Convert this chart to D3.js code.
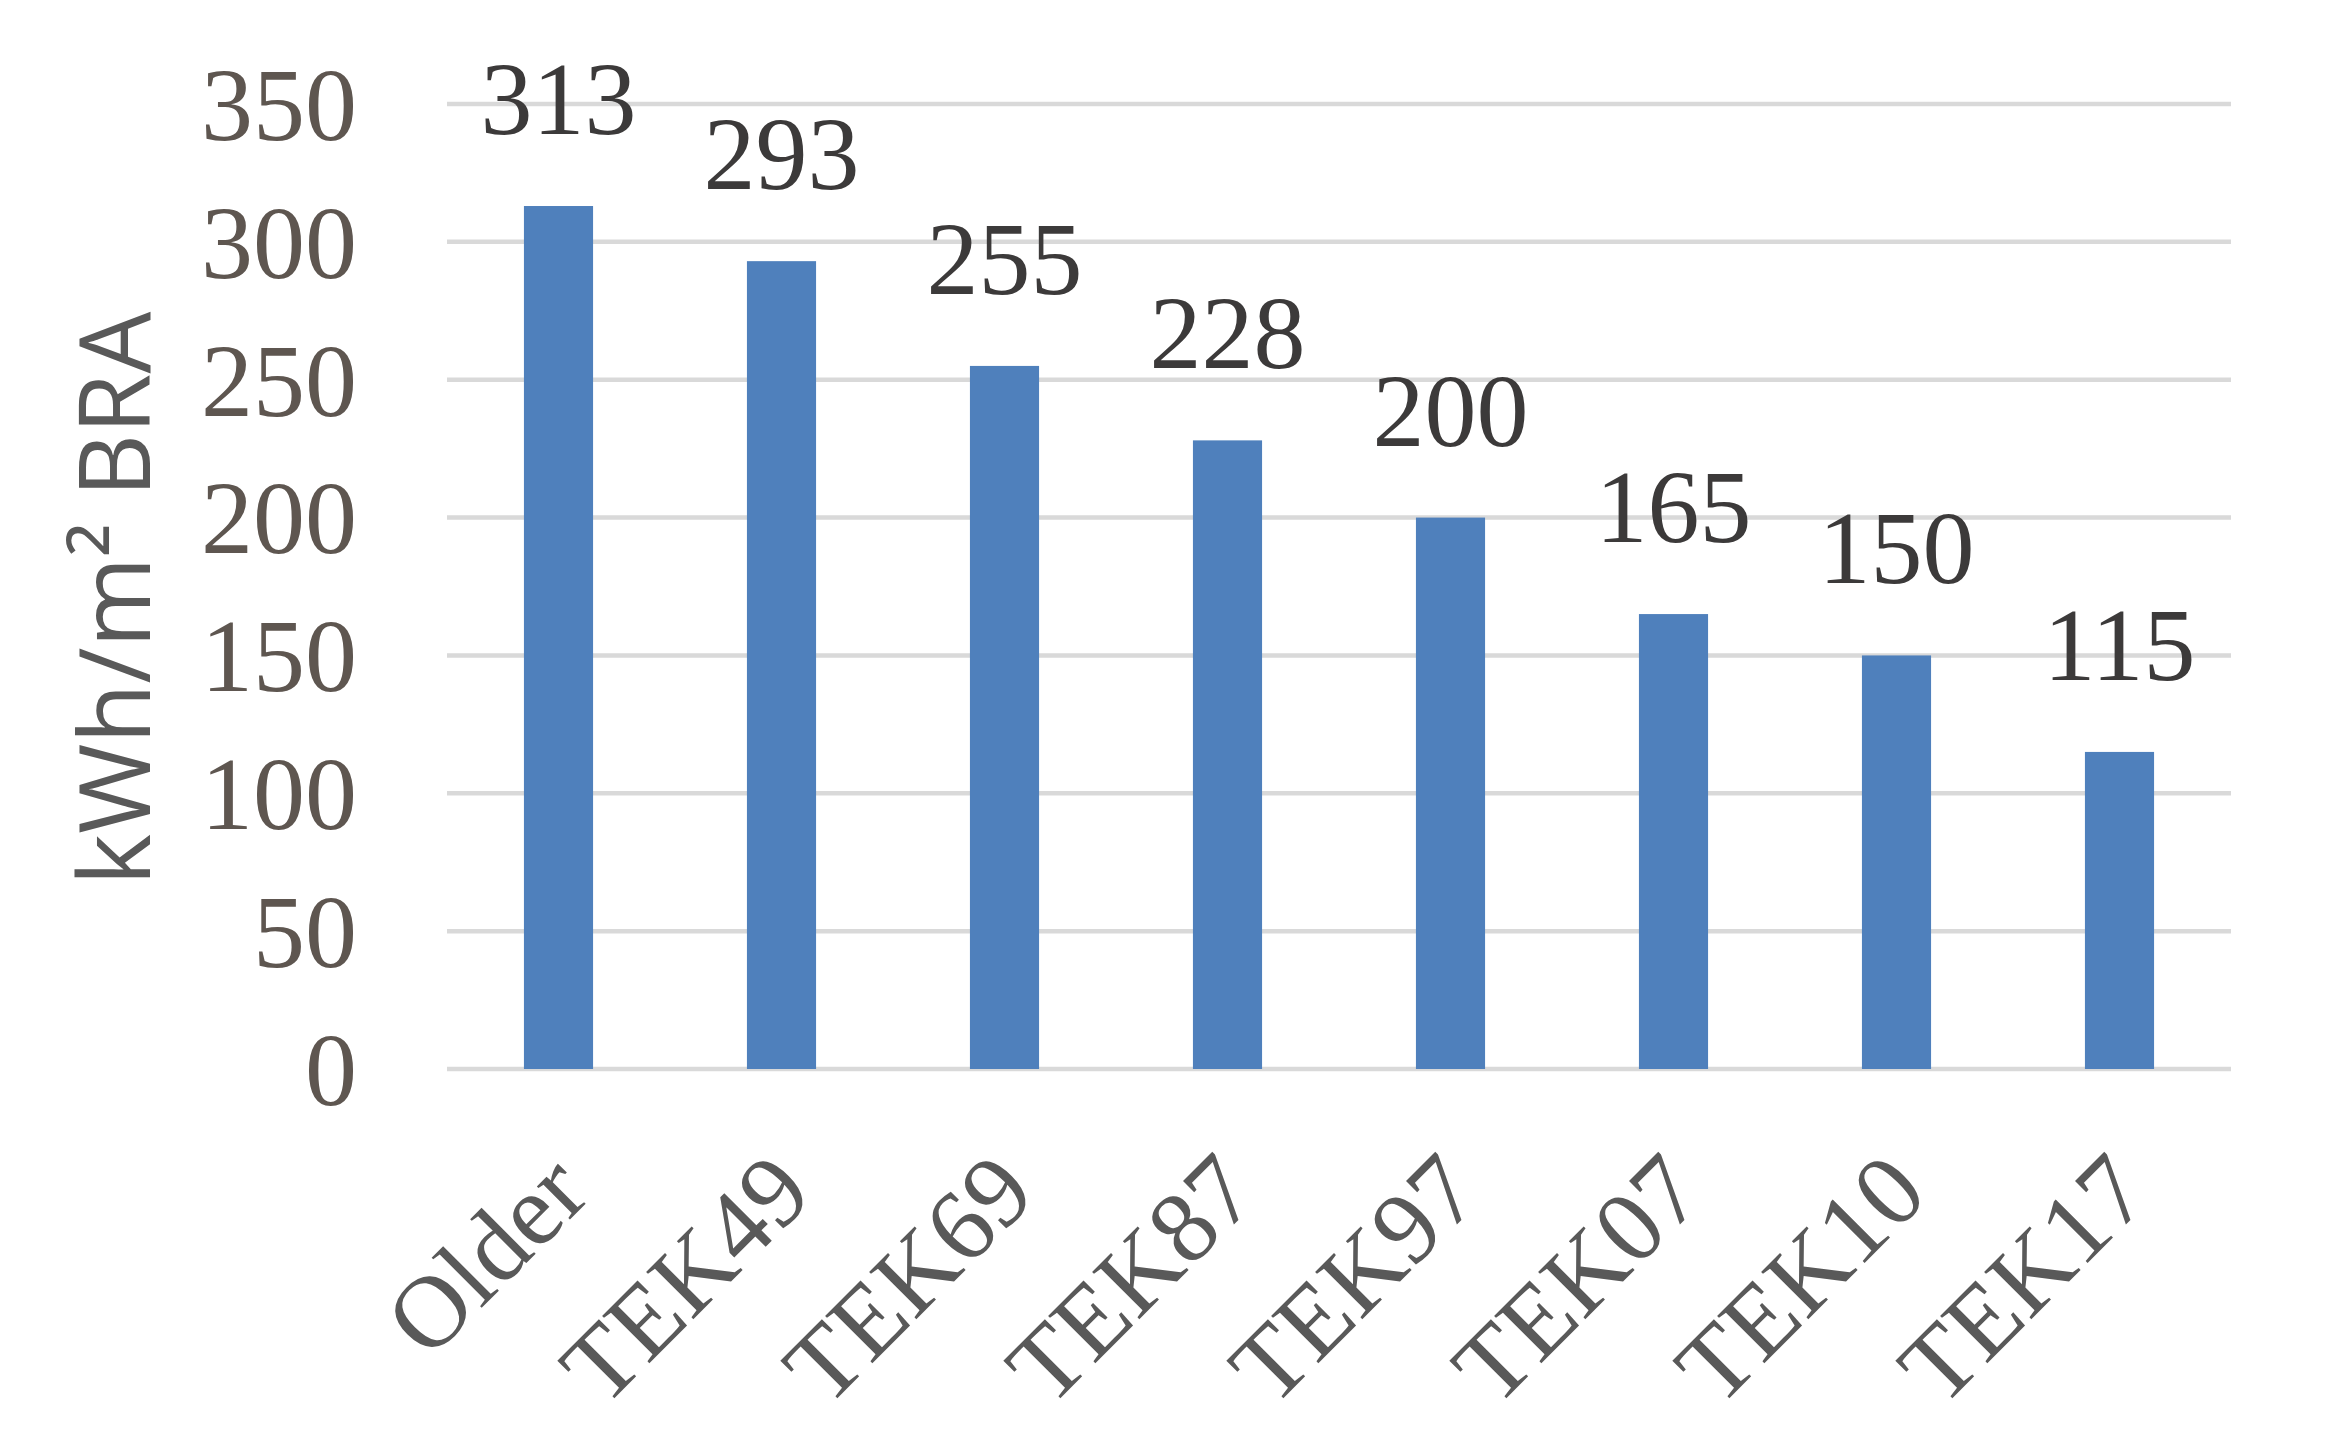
<!DOCTYPE html>
<html>
<head>
<meta charset="utf-8">
<script src="https://cdn.jsdelivr.net/npm/d3@7"></script>
<style>
  html, body { margin: 0; padding: 0; background: #fff; }
</style>
</head>
<body>
<svg width="2335" height="1440"></svg>
<script>
    // values
    let categories = ["Older", "TEK49", "TEK69", "TEK87", "TEK97", "TEK07", "TEK10", "TEK17"]
    let values = [313, 293, 255, 228, 200, 165, 150, 115]
    let yTicks = [0, 50, 100, 150, 200, 250, 300, 350]
    let yTitle = "kWh/m\u00b2 BRA"

    let width = 2335
    let height = 1440
    let margin = { top: 104, right: 104, bottom: 371, left: 447 }

    var svg = d3.select('svg')

    var x = d3.scaleBand()
        .domain(categories)
        .range([margin.left, width - margin.right])
        .paddingInner(0.69)
        .paddingOuter(0.345)

    var y = d3.scaleLinear()
        .domain([0, 350])
        .range([height - margin.bottom, margin.top])

    // gridlines
    svg.append('g').selectAll('line').data(yTicks).enter().append('line')
        .attr('x1', margin.left)
        .attr('x2', width - margin.right)
        .attr('y1', d => y(d))
        .attr('y2', d => y(d))
        .attr('stroke', '#d9d9d9')
        .attr('stroke-width', 4.5)

    // y axis labels
    var yAxis = d3.axisLeft(y).tickValues(yTicks).tickSize(0).tickPadding(90)
    var gy = svg.append('g')
        .attr('transform', `translate(${margin.left},0)`)
        .call(yAxis)
    gy.select('.domain').remove()
    gy.selectAll('text')
        .attr('font-family', '"Liberation Serif", "DejaVu Serif", serif')
        .attr('font-size', 104)
        .attr('fill', '#5e5650')
        .attr('dy', '0.34em')

    // bars
    svg.append('g').selectAll('rect').data(values).enter().append('rect')
        .attr('x', (d, i) => x(categories[i]))
        .attr('y', d => y(d))
        .attr('width', x.bandwidth())
        .attr('height', d => y(0) - y(d))
        .attr('fill', '#4f80bc')

    // data labels
    svg.append('g').selectAll('text').data(values).enter().append('text')
        .attr('x', (d, i) => x(categories[i]) + x.bandwidth() / 2)
        .attr('y', d => y(d) - 72)
        .attr('text-anchor', 'middle')
        .attr('font-family', '"Liberation Serif", "DejaVu Serif", serif')
        .attr('font-size', 104)
        .attr('fill', '#3c3a3a')
        .text(d => d)

    // category labels, rotated
    svg.append('g').selectAll('text').data(categories).enter().append('text')
        .attr('transform', d => `translate(${x(d) + x.bandwidth() / 2 + 34},${y(0) + 128}) rotate(-45)`)
        .attr('text-anchor', 'end')
        .attr('font-family', '"Liberation Serif", "DejaVu Serif", serif')
        .attr('font-size', 102)
        .attr('fill', '#595959')
        .text(d => d)

    // y title
    svg.append('text')
        .attr('transform', `translate(150,${(y(0) + y(350)) / 2 + 12}) rotate(-90)`)
        .attr('text-anchor', 'middle')
        .attr('font-family', '"Open Sans", "Noto Sans", sans-serif')
        .attr('font-size', 98)
        .attr('fill', '#595959')
        .text(yTitle)
</script>
</body>
</html>
